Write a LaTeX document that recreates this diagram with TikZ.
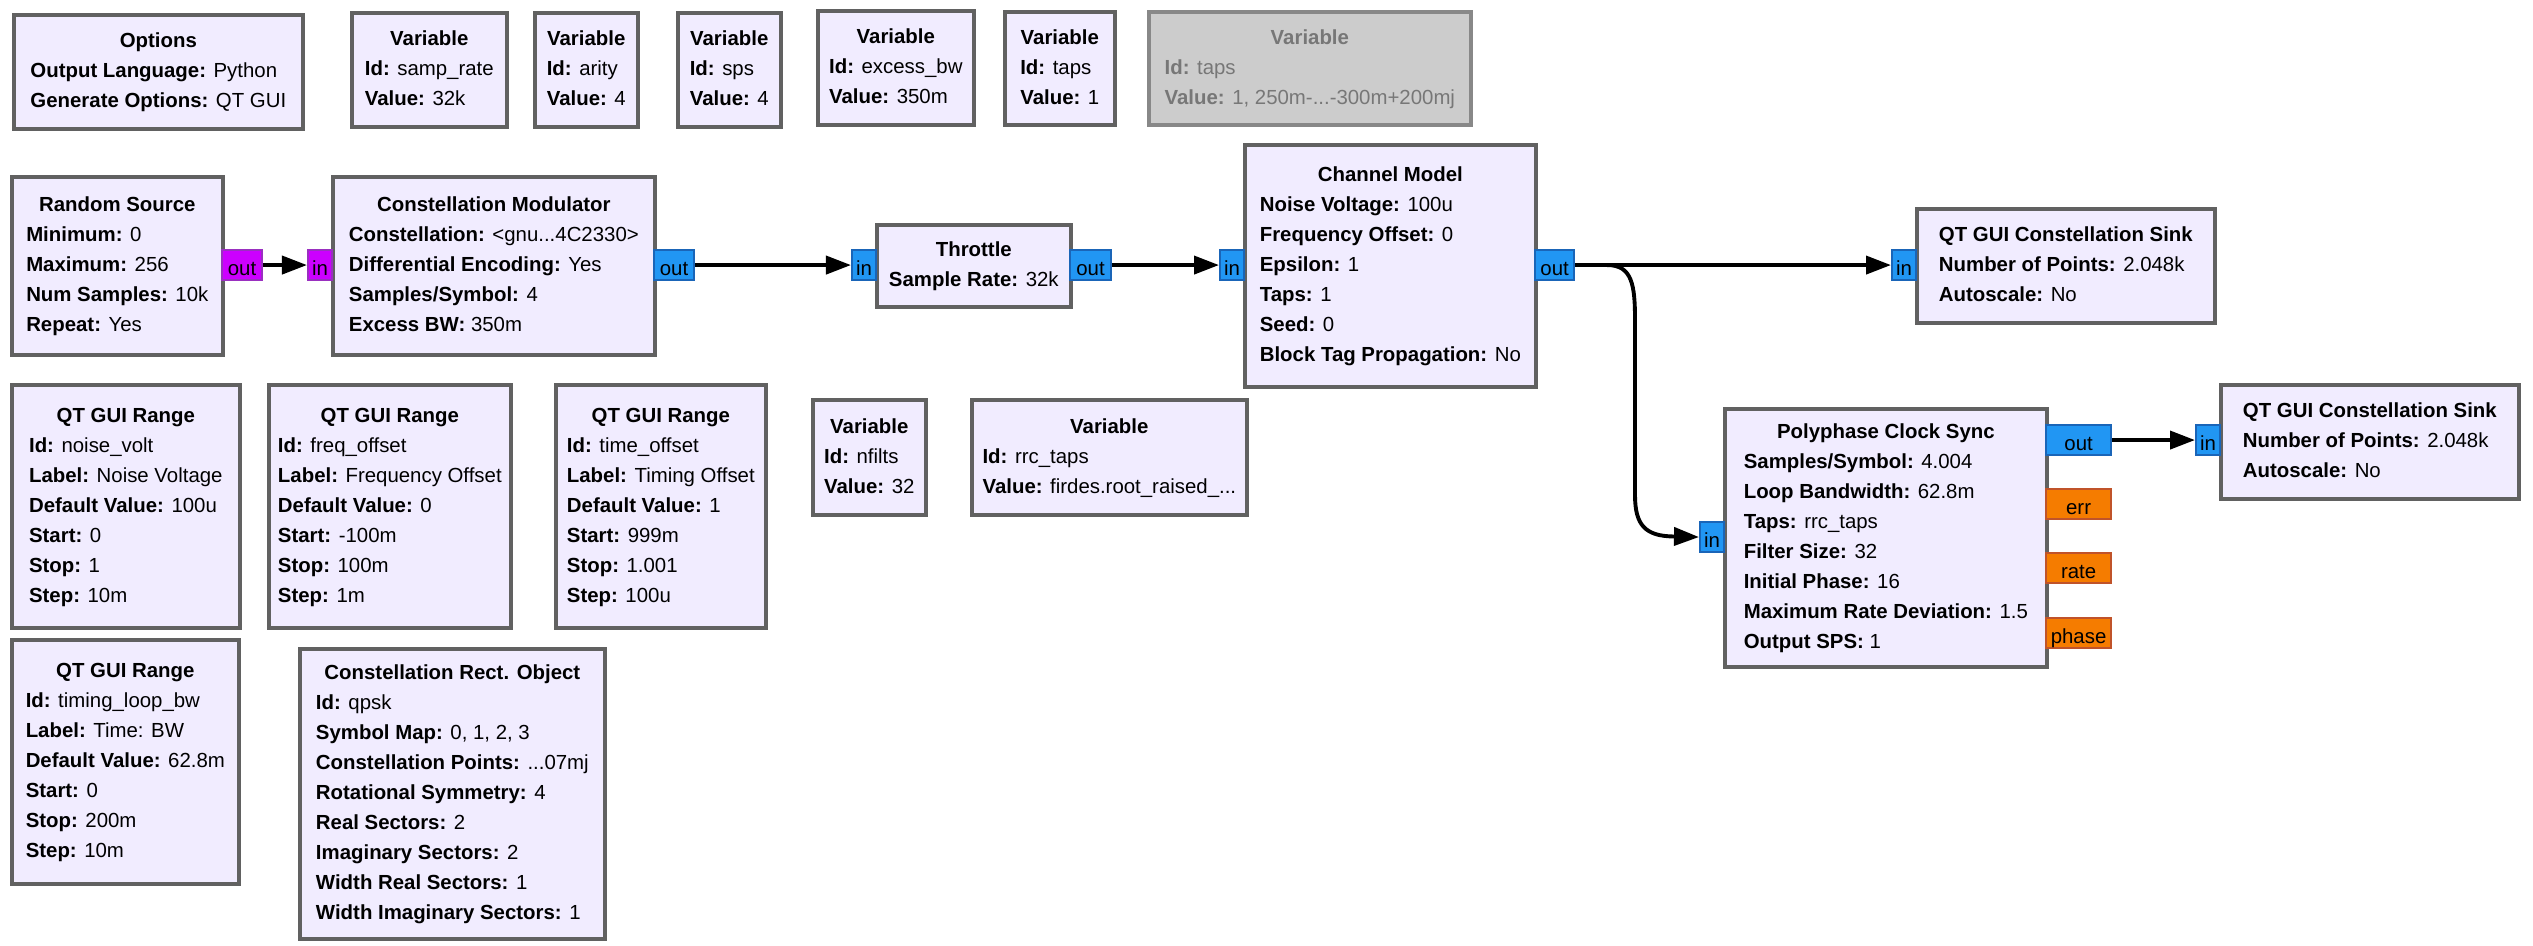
\documentclass[tikz,border=0pt]{standalone}
\usepackage{fontspec}
\setmainfont{Liberation Sans}
\usetikzlibrary{arrows.meta}

\definecolor{blockfill}{HTML}{F1ECFF}
\definecolor{blockline}{HTML}{616161}
\definecolor{cplxfill}{HTML}{2196F3}
\definecolor{cplxline}{HTML}{1A65B8}
\definecolor{bytefill}{HTML}{CC00FF}
\definecolor{byteline}{HTML}{9A30C0}
\definecolor{floatfill}{HTML}{F57C00}
\definecolor{floatline}{HTML}{C0532A}
\definecolor{offfill}{HTML}{CCCCCC}
\definecolor{offline}{HTML}{888888}
\definecolor{offtext}{HTML}{777777}

\tikzset{
  block/.style={draw=blockline, fill=blockfill, line width=1pt, anchor=north west,
    inner sep=0pt, font=\fontsize{5.8}{8.54}\selectfont},
  offblock/.style={block, draw=offline, fill=offfill, text=offtext},
  port/.style={line width=0.6pt, anchor=north west, inner sep=0pt,
    minimum height=0.3cm, text height=0.2cm, text depth=0pt,
    font=\fontsize{5.8}{7}\selectfont},
  cplxport/.style={port, draw=cplxline, fill=cplxfill},
  byteport/.style={port, draw=byteline, fill=bytefill},
  floatport/.style={port, draw=floatline, fill=floatfill},
  link/.style={line width=1.1pt, -{Triangle[length=0.25cm,width=0.18cm]}}
}

\begin{document}
\begin{tikzpicture}[x=0.01cm, y=-0.01cm]
    \path[use as bounding box, fill=white] (0,0) rectangle (2533,946);

    % Top row: options and variables
    \node[block, minimum width=2.89cm, minimum height=1.14cm] (options) at (12,13)
        {\begin{tabular}{@{}l@{}}\multicolumn{1}{@{}c@{}}{\textbf{Options}}\\
        \textbf{Output Language:} Python\\ \textbf{Generate Options:} QT GUI\end{tabular}};
    \node[block, minimum width=1.55cm, minimum height=1.14cm] (samprate) at (350,11)
        {\begin{tabular}{@{}l@{}}\multicolumn{1}{@{}c@{}}{\textbf{Variable}}\\
        \textbf{Id:} samp\_rate\\ \textbf{Value:} 32k\end{tabular}};
    \node[block, minimum width=1.03cm, minimum height=1.14cm] (arity) at (533,11)
        {\begin{tabular}{@{}l@{}}\multicolumn{1}{@{}c@{}}{\textbf{Variable}}\\
        \textbf{Id:} arity\\ \textbf{Value:} 4\end{tabular}};
    \node[block, minimum width=1.03cm, minimum height=1.14cm] (sps) at (676,11)
        {\begin{tabular}{@{}l@{}}\multicolumn{1}{@{}c@{}}{\textbf{Variable}}\\
        \textbf{Id:} sps\\ \textbf{Value:} 4\end{tabular}};
    \node[block, minimum width=1.56cm, minimum height=1.14cm] (excessbw) at (816,9)
        {\begin{tabular}{@{}l@{}}\multicolumn{1}{@{}c@{}}{\textbf{Variable}}\\
        \textbf{Id:} excess\_bw\\ \textbf{Value:} 350m\end{tabular}};
    \node[block, minimum width=1.10cm, minimum height=1.13cm] (taps) at (1003,10)
        {\begin{tabular}{@{}l@{}}\multicolumn{1}{@{}c@{}}{\textbf{Variable}}\\
        \textbf{Id:} taps\\ \textbf{Value:} 1\end{tabular}};
    \node[offblock, minimum width=3.22cm, minimum height=1.13cm] (tapsoff) at (1147,10)
        {\begin{tabular}{@{}l@{}}\multicolumn{1}{@{}c@{}}{\textbf{Variable}}\\
        \textbf{Id:} taps\\ \textbf{Value:} 1, 250m-...-300m+200mj\end{tabular}};

    % Signal chain
    \node[block, minimum width=2.11cm, minimum height=1.78cm] (randsrc) at (10,175)
        {\begin{tabular}{@{}l@{}}\multicolumn{1}{@{}c@{}}{\textbf{Random Source}}\\
        \textbf{Minimum:} 0\\ \textbf{Maximum:} 256\\ \textbf{Num Samples:} 10k\\
        \textbf{Repeat:} Yes\end{tabular}};
    \node[block, minimum width=3.22cm, minimum height=1.78cm] (constmod) at (331,175)
        {\begin{tabular}{@{}l@{}}\multicolumn{1}{@{}c@{}}{\textbf{Constellation Modulator}}\\
        \textbf{Constellation:} <gnu...4C2330>\\ \textbf{Differential Encoding:} Yes\\
        \textbf{Samples/Symbol:} 4\\ \textbf{Excess BW:} 350m\end{tabular}};
    \node[block, minimum width=1.94cm, minimum height=0.82cm] (throttle) at (875,223)
        {\begin{tabular}{@{}l@{}}\multicolumn{1}{@{}c@{}}{\textbf{Throttle}}\\
        \textbf{Sample Rate:} 32k\end{tabular}};
    \node[block, minimum width=2.91cm, minimum height=2.42cm] (channel) at (1243,143)
        {\begin{tabular}{@{}l@{}}\multicolumn{1}{@{}c@{}}{\textbf{Channel Model}}\\
        \textbf{Noise Voltage:} 100u\\ \textbf{Frequency Offset:} 0\\ \textbf{Epsilon:} 1\\
        \textbf{Taps:} 1\\ \textbf{Seed:} 0\\ \textbf{Block Tag Propagation:} No\end{tabular}};
    \node[block, minimum width=2.98cm, minimum height=1.14cm] (sinkraw) at (1915,207)
        {\begin{tabular}{@{}l@{}}\multicolumn{1}{@{}c@{}}{\textbf{QT GUI Constellation Sink}}\\
        \textbf{Number of Points:} 2.048k\\ \textbf{Autoscale:} No\end{tabular}};
    \node[block, minimum width=3.22cm, minimum height=2.58cm] (clocksync) at (1723,407)
        {\begin{tabular}{@{}l@{}}\multicolumn{1}{@{}c@{}}{\textbf{Polyphase Clock Sync}}\\
        \textbf{Samples/Symbol:} 4.004\\ \textbf{Loop Bandwidth:} 62.8m\\
        \textbf{Taps:} rrc\_taps\\ \textbf{Filter Size:} 32\\ \textbf{Initial Phase:} 16\\
        \textbf{Maximum Rate Deviation:} 1.5\\ \textbf{Output SPS:} 1\end{tabular}};
    \node[block, minimum width=2.98cm, minimum height=1.14cm] (sinksync) at (2219,383)
        {\begin{tabular}{@{}l@{}}\multicolumn{1}{@{}c@{}}{\textbf{QT GUI Constellation Sink}}\\
        \textbf{Number of Points:} 2.048k\\ \textbf{Autoscale:} No\end{tabular}};

    % Ranges and other variables
    \node[block, minimum width=2.28cm, minimum height=2.43cm] (noisevolt) at (10,383)
        {\begin{tabular}{@{}l@{}}\multicolumn{1}{@{}c@{}}{\textbf{QT GUI Range}}\\
        \textbf{Id:} noise\_volt\\ \textbf{Label:} Noise Voltage\\ \textbf{Default Value:} 100u\\
        \textbf{Start:} 0\\ \textbf{Stop:} 1\\ \textbf{Step:} 10m\end{tabular}};
    \node[block, minimum width=2.42cm, minimum height=2.43cm] (freqoffset) at (267,383)
        {\begin{tabular}{@{}l@{}}\multicolumn{1}{@{}c@{}}{\textbf{QT GUI Range}}\\
        \textbf{Id:} freq\_offset\\ \textbf{Label:} Frequency Offset\\ \textbf{Default Value:} 0\\
        \textbf{Start:} -100m\\ \textbf{Stop:} 100m\\ \textbf{Step:} 1m\end{tabular}};
    \node[block, minimum width=2.10cm, minimum height=2.43cm] (timeoffset) at (554,383)
        {\begin{tabular}{@{}l@{}}\multicolumn{1}{@{}c@{}}{\textbf{QT GUI Range}}\\
        \textbf{Id:} time\_offset\\ \textbf{Label:} Timing Offset\\ \textbf{Default Value:} 1\\
        \textbf{Start:} 999m\\ \textbf{Stop:} 1.001\\ \textbf{Step:} 100u\end{tabular}};
    \node[block, minimum width=1.13cm, minimum height=1.15cm] (nfilts) at (811,398)
        {\begin{tabular}{@{}l@{}}\multicolumn{1}{@{}c@{}}{\textbf{Variable}}\\
        \textbf{Id:} nfilts\\ \textbf{Value:} 32\end{tabular}};
    \node[block, minimum width=2.75cm, minimum height=1.15cm] (rrctaps) at (970,398)
        {\begin{tabular}{@{}l@{}}\multicolumn{1}{@{}c@{}}{\textbf{Variable}}\\
        \textbf{Id:} rrc\_taps\\ \textbf{Value:} firdes.root\_raised\_...\end{tabular}};
    \node[block, minimum width=2.27cm, minimum height=2.44cm] (loopbw) at (10,638)
        {\begin{tabular}{@{}l@{}}\multicolumn{1}{@{}c@{}}{\textbf{QT GUI Range}}\\
        \textbf{Id:} timing\_loop\_bw\\ \textbf{Label:} Time: BW\\ \textbf{Default Value:} 62.8m\\
        \textbf{Start:} 0\\ \textbf{Stop:} 200m\\ \textbf{Step:} 10m\end{tabular}};
    \node[block, minimum width=3.05cm, minimum height=2.90cm] (qpsk) at (298,647)
        {\begin{tabular}{@{}l@{}}\multicolumn{1}{@{}c@{}}{\textbf{Constellation Rect. Object}}\\
        \textbf{Id:} qpsk\\ \textbf{Symbol Map:} 0, 1, 2, 3\\ \textbf{Constellation Points:} ...07mj\\
        \textbf{Rotational Symmetry:} 4\\ \textbf{Real Sectors:} 2\\ \textbf{Imaginary Sectors:} 2\\
        \textbf{Width Real Sectors:} 1\\ \textbf{Width Imaginary Sectors:} 1\end{tabular}};

    % Ports
    \node[byteport, minimum width=0.40cm] (randsrc_out) at (221,249) {out};
    \node[byteport, minimum width=0.24cm] (constmod_in) at (307,249) {in};
    \node[cplxport, minimum width=0.40cm] (constmod_out) at (653,249) {out};
    \node[cplxport, minimum width=0.24cm] (throttle_in) at (851,249) {in};
    \node[cplxport, minimum width=0.41cm] (throttle_out) at (1069,249) {out};
    \node[cplxport, minimum width=0.24cm] (channel_in) at (1219,249) {in};
    \node[cplxport, minimum width=0.39cm] (channel_out) at (1534,249) {out};
    \node[cplxport, minimum width=0.24cm] (sinkraw_in) at (1891,249) {in};
    \node[cplxport, minimum width=0.24cm] (clocksync_in) at (1699,521) {in};
    \node[cplxport, minimum width=0.65cm] (clocksync_out) at (2045,424) {out};
    \node[floatport, minimum width=0.65cm] (clocksync_err) at (2045,488) {err};
    \node[floatport, minimum width=0.65cm] (clocksync_rate) at (2045,552) {rate};
    \node[floatport, minimum width=0.65cm] (clocksync_phase) at (2045,617) {phase};
    \node[cplxport, minimum width=0.24cm] (sinksync_in) at (2195,424) {in};

    % Connections
    \draw[link] (randsrc_out.east) -- (constmod_in.west);
    \draw[link] (constmod_out.east) -- (throttle_in.west);
    \draw[link] (throttle_out.east) -- (channel_in.west);
    \draw[link] (channel_out.east) -- (sinkraw_in.west);
    \draw[link] (channel_out.east) -- ++(32,0) .. controls +(25,0) and (1635,285) .. (1635,320)
        -- (1635,495) .. controls (1635,525) and (1645,536.5) .. (1675,536.5) -- (clocksync_in.west);
    \draw[link] (clocksync_out.east) -- (sinksync_in.west);
\end{tikzpicture}
\end{document}
